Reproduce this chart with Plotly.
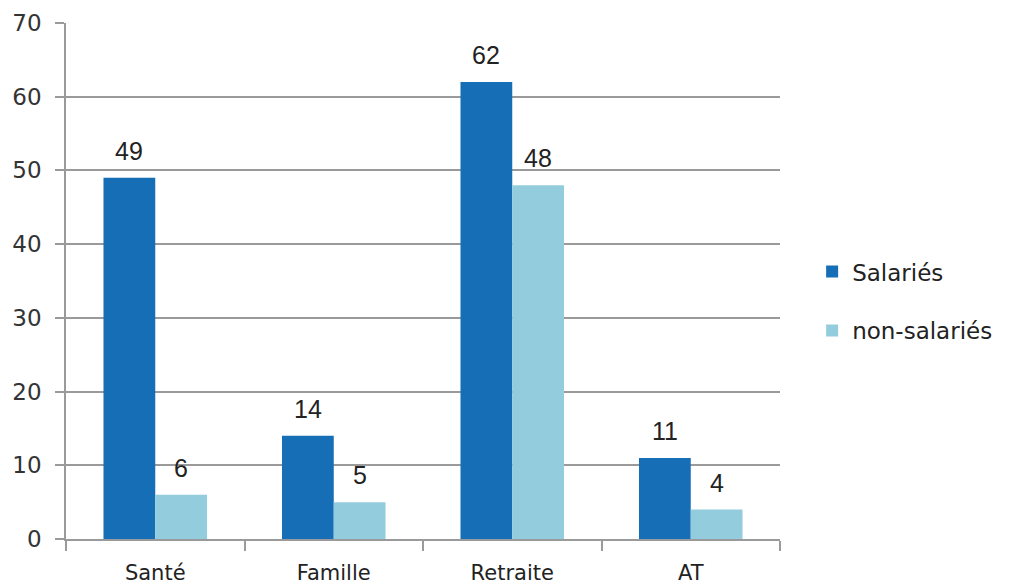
import plotly.graph_objects as go

categories = ["Santé", "Famille", "Retraite", "AT"]
salaries = [49, 14, 62, 11]
non_salaries = [6, 5, 48, 4]

dark = "#166eb6"
light = "#93cddd"

fig = go.Figure()
fig.add_trace(go.Bar(x=categories, y=salaries, name="Salariés", legendgroup="a",
                     marker=dict(color=dark, line=dict(width=0))))
fig.add_trace(go.Bar(x=categories, y=non_salaries, name="non-salariés", legendgroup="b",
                     marker=dict(color=light, line=dict(width=0))))

# value labels above bars
for vals, shift in [(salaries, -26), (non_salaries, 26)]:
    for c, v in zip(categories, vals):
        fig.add_annotation(x=c, y=v, text=str(v), showarrow=False,
                           xshift=shift, yshift=27,
                           font=dict(family="Liberation Sans", size=25, color="#222"))

# page body has an 8px margin, so the figure is a bit smaller than the window
fig.update_layout(
    width=1008, height=579,
    margin=dict(l=58, r=236, t=15, b=48),
    paper_bgcolor="white", plot_bgcolor="white",
    barmode="group", bargap=0.42, bargroupgap=0,
    font=dict(family="DejaVu Sans", size=20, color="#333"),
    legend=dict(x=1.045, y=0.461, yanchor="middle", xanchor="left",
                font=dict(size=23, color="#222"), tracegroupgap=26,
                itemwidth=30),
    showlegend=True,
)
fig.update_yaxes(range=[0, 70], dtick=10, showgrid=True, gridcolor="#9a9a9a",
                 gridwidth=1.5, showline=True, linecolor="#9a9a9a", linewidth=1.5,
                 ticks="outside", ticklen=9, tickcolor="#9a9a9a", tickwidth=1.5,
                 ticklabelstandoff=9, automargin=False,
                 tickfont=dict(size=23, color="#333"), zeroline=False)
fig.update_xaxes(showline=True, linecolor="#9a9a9a", linewidth=1.5,
                 ticks="outside", tickson="boundaries", ticklen=10,
                 tickcolor="#9a9a9a", tickwidth=1.5, ticklabelstandoff=14,
                 automargin=False,
                 tickfont=dict(size=21, color="#222"))

fig.write_html("out.html")
